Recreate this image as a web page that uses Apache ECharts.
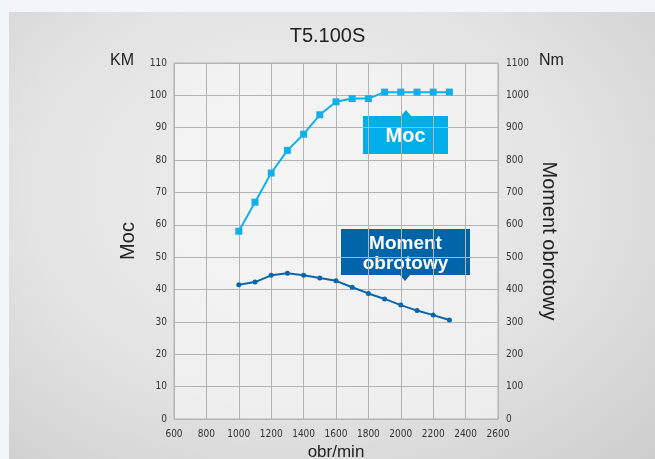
<!DOCTYPE html>
<html>
<head>
<meta charset="utf-8">
<title>T5.100S</title>
<script src="https://cdn.jsdelivr.net/npm/echarts@6/dist/echarts.min.js"></script>
<style>
    html, body {
        margin: 0;
        padding: 0;
        background: #f2f6f7;
    }

    /* szare tlo panelu z jasniejszym srodkiem */
    #panel {
        position: absolute;
        left: 9px;
        top: 12px;
        width: 646px;
        height: 447px;
        background: radial-gradient(ellipse at 45% 40%, #f0f0f0 0%, #e3e3e3 55%, #cdcdcd 100%);
    }

    #main {
        position: absolute;
        left: 0;
        top: 0;
        width: 655px;
        height: 459px;
    }
</style>
</head>
<body>
<div id="panel"></div>
<div id="main"></div>
<script>
// obroty silnika
const rpm = [1000, 1100, 1200, 1300, 1400, 1500, 1600, 1700, 1800, 1900, 2000, 2100, 2200, 2300];
// moc [KM]
const moc = [58, 67, 76, 83, 88, 94, 98, 99, 99, 101, 101, 101, 101, 101];
// moment obrotowy [Nm]
const moment = [415, 423, 444, 450, 444, 436, 427, 407, 388, 371, 352, 335, 321, 306];

const mocColor = '#12b0e6';
const momentColor = '#0a66ac';
const tickFont = {
    fontFamily: '"Liberation Sans Narrow", "DejaVu Sans Condensed", sans-serif',
    fontSize: 10,
    color: '#333',
    formatter: (v) => String(v)
};

const chart = echarts.init(document.getElementById('main'), null, { renderer: 'canvas' });

const option = {
    backgroundColor: 'transparent',
    animation: false,
    title: {
        text: 'T5.100S',
        left: 'center',
        top: 21,
        textStyle: {
            fontFamily: '"Liberation Sans", Arial, sans-serif',
            fontSize: 20,
            fontWeight: 'normal',
            color: '#222'
        }
    },
    grid: {
        left: 174,
        right: 157,
        top: 63,
        bottom: 40,
        outerBoundsMode: 'none',
        containLabel: false,
        show: true,
        backgroundColor: 'rgba(250, 250, 250, 0.55)',
        borderColor: '#b3b3b3',
        borderWidth: 1
    },
    xAxis: {
        type: 'value',
        min: 600,
        max: 2600,
        interval: 200,
        name: 'obr/min',
        nameLocation: 'middle',
        nameGap: 21,
        nameTextStyle: {
            fontFamily: '"Liberation Sans", Arial, sans-serif',
            fontSize: 17,
            color: '#222'
        },
        axisLine: { show: false },
        axisTick: { show: false },
        axisLabel: Object.assign({ margin: 10 }, tickFont),
        splitLine: { lineStyle: { color: '#b3b3b3', width: 1 } }
    },
    yAxis: [
        {
            type: 'value',
            min: 0,
            max: 110,
            interval: 10,
            name: 'Moc',
            nameLocation: 'middle',
            nameGap: 36,
            nameRotate: 90,
            nameTextStyle: {
                fontFamily: '"Liberation Sans", Arial, sans-serif',
                fontSize: 20,
                color: '#222'
            },
            axisLine: { show: false },
            axisTick: { show: false },
            axisLabel: Object.assign({ margin: 7, padding: [0, 0, 3, 0] }, tickFont),
            splitLine: { lineStyle: { color: '#b3b3b3', width: 1 } }
        },
        {
            type: 'value',
            min: 0,
            max: 1100,
            interval: 100,
            name: 'Moment obrotowy',
            nameLocation: 'middle',
            nameGap: 41,
            nameRotate: -90,
            nameTextStyle: {
                fontFamily: '"Liberation Sans", Arial, sans-serif',
                fontSize: 20,
                color: '#222'
            },
            axisLine: { show: false },
            axisTick: { show: false },
            axisLabel: Object.assign({ margin: 8, padding: [0, 0, 3, 0] }, tickFont),
            splitLine: { show: false }
        }
    ],
    series: [
        {
            name: 'Moc',
            type: 'line',
            yAxisIndex: 0,
            data: rpm.map((r, i) => [r, moc[i]]),
            symbol: 'rect',
            symbolSize: 7,
            lineStyle: { color: mocColor, width: 2 },
            itemStyle: { color: mocColor },
            z: 3
        },
        {
            name: 'Moment obrotowy',
            type: 'line',
            yAxisIndex: 1,
            data: rpm.map((r, i) => [r, moment[i]]),
            symbol: 'circle',
            symbolSize: 5,
            lineStyle: { color: momentColor, width: 2 },
            itemStyle: { color: momentColor },
            z: 3
        }
    ],
    graphic: [
        {
            type: 'text',
            left: 110,
            top: 53,
            style: { text: 'KM', fill: '#222', font: '16px "Liberation Sans", Arial, sans-serif' }
        },
        {
            type: 'text',
            left: 539,
            top: 53,
            style: { text: 'Nm', fill: '#222', font: '16px "Liberation Sans", Arial, sans-serif' }
        },
        // dymek "Moc"
        {
            type: 'group',
            children: [
                { type: 'polygon', shape: { points: [[400, 117], [406, 110], [412, 117]] }, style: { fill: '#00aee9' } },
                { type: 'rect', shape: { x: 363, y: 116, width: 85, height: 38 }, style: { fill: '#00aee9' } },
                {
                    type: 'text',
                    style: {
                        text: 'Moc', x: 405.5, y: 136, align: 'center', verticalAlign: 'middle',
                        fill: '#fff', font: 'bold 20px "Liberation Sans", Arial, sans-serif'
                    }
                }
            ]
        },
        // dymek "Moment obrotowy"
        {
            type: 'group',
            children: [
                { type: 'polygon', shape: { points: [[399, 274], [405, 281], [411, 274]] }, style: { fill: '#0064a9' } },
                { type: 'rect', shape: { x: 341, y: 229, width: 129, height: 46 }, style: { fill: '#0064a9' } },
                {
                    type: 'text',
                    style: {
                        text: 'Moment\nobrotowy', x: 405.5, y: 254, align: 'center', verticalAlign: 'middle',
                        lineHeight: 20, fill: '#fff', font: 'bold 19px "Liberation Sans", Arial, sans-serif'
                    }
                }
            ]
        }
    ]
};

chart.setOption(option);
</script>
</body>
</html>
